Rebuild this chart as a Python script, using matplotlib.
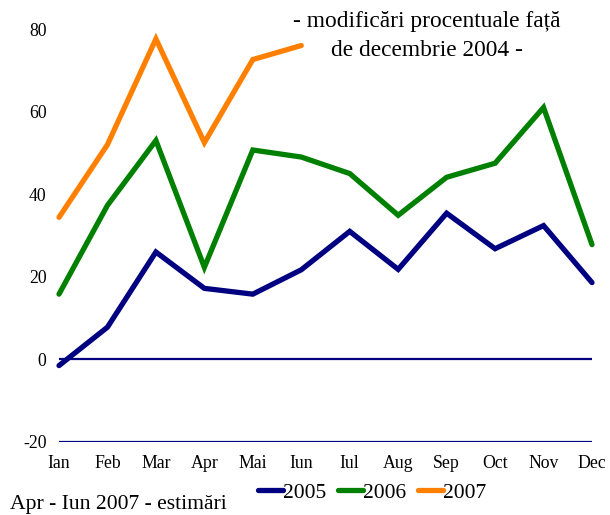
import matplotlib
matplotlib.use("Agg")
import matplotlib.pyplot as plt

# monthly changes vs December 2004, percent
months = ['Ian', 'Feb', 'Mar', 'Apr', 'Mai', 'Iun', 'Iul', 'Aug', 'Sep', 'Oct', 'Nov', 'Dec']
y2005 = [-1.5, 7.8, 26.0, 17.2, 15.8, 21.7, 31.0, 21.8, 35.4, 26.8, 32.4, 18.6]
y2006 = [15.8, 37.3, 53.0, 22.3, 50.7, 49.0, 45.0, 34.9, 44.1, 47.5, 61.0, 27.8]
y2007 = [34.4, 52.0, 77.6, 52.5, 72.6, 76.0]
years = ['2005', '2006', '2007']
colors = ['#000080', '#008000', '#ff8000']

plt.rcParams['font.family'] = ['Liberation Serif', 'DejaVu Serif']
plt.rcParams['axes.unicode_minus'] = False

fig = plt.figure(figsize=(6.1, 5.15), dpi=100)
ax = fig.add_axes([59 / 610, 1 - 442 / 515, (592 - 59) / 610, (442 - 29) / 515])

series = [y2005, y2006, y2007]
for name, vals, c in zip(years, series, colors):
    ax.plot(range(len(vals)), vals, color=c, lw=3.8, label=name,
            solid_capstyle='round', solid_joinstyle='miter', clip_on=False, zorder=3)

ax.axhline(0, color='#000080', lw=1.6, zorder=2)
ax.axhline(-20, color='#000080', lw=1.6, zorder=2)

ax.set_xlim(0, 11)
ax.set_ylim(-20, 80)
ax.set_xticks(range(12))
ax.set_xticklabels(months)
ax.set_yticks([-20, 0, 20, 40, 60, 80])
ax.tick_params(axis='both', length=0, labelsize=12.8)
ax.tick_params(axis='x', pad=9)
ax.tick_params(axis='y', pad=9)
for s in ax.spines.values():
    s.set_visible(False)

fig.text(427 / 610, 1 - 22 / 515, '- modificări procentuale față', ha='center', va='center', fontsize=16.8)
fig.text(427 / 610, 1 - 51 / 515, 'de decembrie 2004 -', ha='center', va='center', fontsize=16.8)
fig.text(10 / 610, 1 - 504 / 515, 'Apr - Iun 2007 - estimări', ha='left', va='center', fontsize=15.6)

fig.legend(loc='center', bbox_to_anchor=(372 / 610, 1 - 493 / 515), ncol=3, frameon=False,
           fontsize=15.5, handlelength=1.15, handletextpad=0.0, columnspacing=0.55,
           borderpad=0, borderaxespad=0)

fig.savefig('out.png', dpi=100)
